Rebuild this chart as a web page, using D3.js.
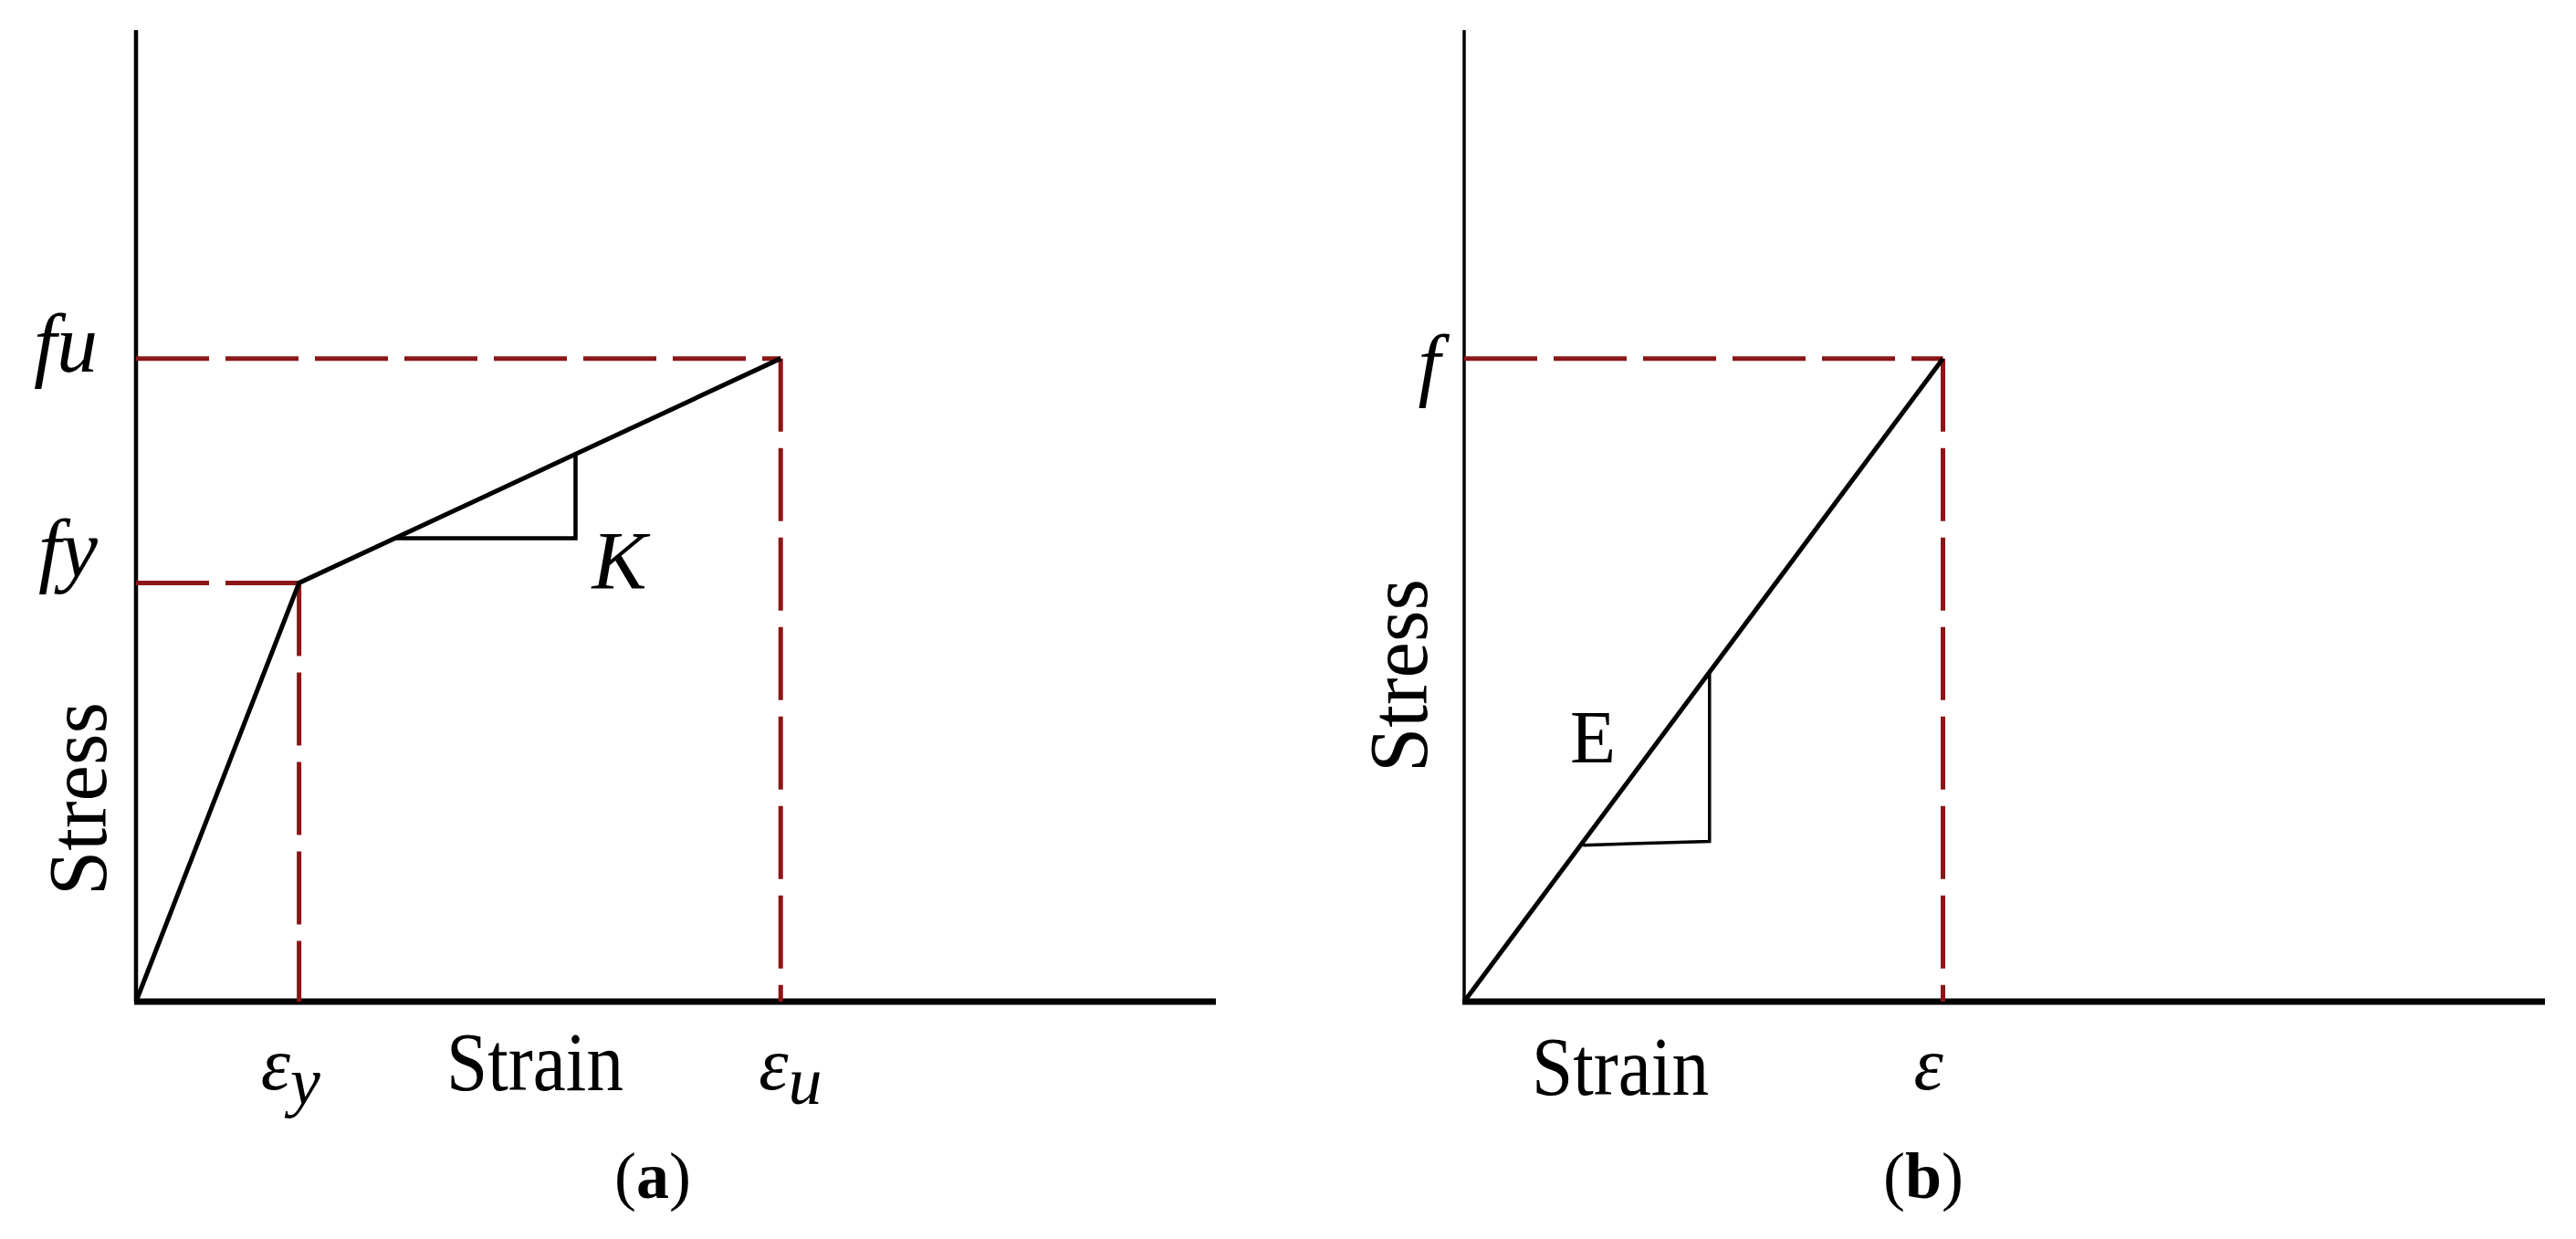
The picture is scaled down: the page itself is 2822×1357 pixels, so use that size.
<!DOCTYPE html>
<html>
<head>
<meta charset="utf-8">
<script src="https://cdn.jsdelivr.net/npm/d3@7"></script>
<style>
  body { margin: 0; background: #fff; }
  text { font-family: "Liberation Serif", "DejaVu Serif", serif; fill: #000; }
</style>
</head>
<body>
<div id="chart"></div>
<script>
// values (both axes run 0..100 in arbitrary units)
const strainA = [0, 15.1, 59.7];      // origin, eps_y, eps_u
const stressA = [0, 43.1, 66.2];      // origin, fy, fu
const kStrain = [24.0, 40.7, 40.7];   // slope triangle K
const kStress = [47.7, 47.7, 56.3];

const strainB = [0, 44.3];            // origin, eps
const stressB = [0, 66.2];            // origin, f
const eStrain = [11.0, 22.7, 22.7];   // slope triangle E
const eStress = [16.1, 16.5, 33.9];

const stressTicksA = ["fu", "fy"];
const stressTicksB = ["f"];
const captions = ["a", "b"];

const W = 2822, H = 1357;
const red = "#8b1616";

const svg = d3.select("#chart").append("svg")
    .attr("width", W)
    .attr("height", H);

// Set up scales for each panel
const xA = d3.scaleLinear().domain([0, 100]).range([149, 1332]);
const yA = d3.scaleLinear().domain([0, 100]).range([1097, 33]);
const xB = d3.scaleLinear().domain([0, 100]).range([1604, 2788]);
const yB = d3.scaleLinear().domain([0, 100]).range([1097, 33]);

function drawAxes(x, y, yWidth) {
    svg.append("line")
        .attr("x1", x(0)).attr("x2", x(0))
        .attr("y1", y(0)).attr("y2", y(100))
        .attr("stroke", "#000").attr("stroke-width", yWidth);
    svg.append("line")
        .attr("x1", x(0) - 2).attr("x2", x(100))
        .attr("y1", y(0)).attr("y2", y(0))
        .attr("stroke", "#000").attr("stroke-width", 7);
}

function guide(x, y, sx, sy) {
    const g = svg.append("g")
        .attr("stroke", red)
        .attr("stroke-width", 5)
        .attr("stroke-dasharray", "80 18")
        .attr("fill", "none");
    g.append("line")
        .attr("x1", x(0)).attr("x2", x(sx))
        .attr("y1", y(sy)).attr("y2", y(sy));
    g.append("line")
        .attr("x1", x(sx)).attr("x2", x(sx))
        .attr("y1", y(sy)).attr("y2", y(0));
}

// panel (a)
drawAxes(xA, yA, 4.5);
guide(xA, yA, strainA[1], stressA[1]);
guide(xA, yA, strainA[2], stressA[2]);

const lineA = d3.line().x((d, i) => xA(strainA[i])).y((d, i) => yA(stressA[i]));
svg.append("path")
    .datum(strainA)
    .attr("d", lineA)
    .attr("fill", "none")
    .attr("stroke", "#000")
    .attr("stroke-width", 5)
    .attr("stroke-linejoin", "miter");

const triK = d3.line().x((d, i) => xA(kStrain[i])).y((d, i) => yA(kStress[i]));
svg.append("path")
    .datum(kStrain)
    .attr("d", triK)
    .attr("fill", "none")
    .attr("stroke", "#000")
    .attr("stroke-width", 4.5);

// panel (b)
drawAxes(xB, yB, 3.5);
guide(xB, yB, strainB[1], stressB[1]);

const lineB = d3.line().x((d, i) => xB(strainB[i])).y((d, i) => yB(stressB[i]));
svg.append("path")
    .datum(strainB)
    .attr("d", lineB)
    .attr("fill", "none")
    .attr("stroke", "#000")
    .attr("stroke-width", 5);

const triE = d3.line().x((d, i) => xB(eStrain[i])).y((d, i) => yB(eStress[i]));
svg.append("path")
    .datum(eStrain)
    .attr("d", triE)
    .attr("fill", "none")
    .attr("stroke", "#000")
    .attr("stroke-width", 3.5);

// stress tick labels
svg.selectAll(".ta").data(stressTicksA).enter().append("text")
    .attr("x", xA(0) - 42)
    .attr("y", (d, i) => yA(stressA[2 - i]) + (i === 0 ? 14 : -6))
    .attr("text-anchor", "end")
    .attr("font-style", "italic")
    .attr("font-size", 90)
    .text(d => d);

svg.selectAll(".tb").data(stressTicksB).enter().append("text")
    .attr("x", xB(0) - 26)
    .attr("y", yB(stressB[1]) + 35)
    .attr("text-anchor", "end")
    .attr("font-style", "italic")
    .attr("font-size", 88)
    .text(d => d);

// strain tick labels with subscripts
function epsLabel(x, sub) {
    const t = svg.append("text")
        .attr("x", x)
        .attr("y", 1193)
        .attr("font-style", "italic")
        .attr("font-size", 82);
    t.append("tspan").text("\u03b5");
    if (sub) {
        t.append("tspan")
            .attr("dy", 16)
            .attr("font-size", 74)
            .text(sub);
    }
}
epsLabel(xA(strainA[1]) - 42, "y");
epsLabel(xA(strainA[2]) - 24, "u");
epsLabel(xB(strainB[1]) - 32, null);

// slope labels
svg.append("text")
    .attr("x", xA(kStrain[1]) + 18)
    .attr("y", 645)
    .attr("font-style", "italic")
    .attr("font-size", 90)
    .text("K");

svg.append("text")
    .attr("x", 1720)
    .attr("y", 835)
    .attr("font-size", 82)
    .text("E");

// axis titles
function strainTitle(cx, base) {
    svg.append("text")
        .attr("x", cx)
        .attr("y", base)
        .attr("text-anchor", "middle")
        .attr("font-size", 92)
        .attr("textLength", 194)
        .attr("lengthAdjust", "spacingAndGlyphs")
        .text("Strain");
}
strainTitle(586, 1194);
strainTitle(1775, 1199);

function stressTitle(bx, cy) {
    svg.append("text")
        .attr("transform", `translate(${bx},${cy}) rotate(-90)`)
        .attr("text-anchor", "middle")
        .attr("font-size", 92)
        .attr("textLength", 212)
        .attr("lengthAdjust", "spacingAndGlyphs")
        .text("Stress");
}
stressTitle(116, 875);
stressTitle(1563, 740);

// captions
[715, 2107].forEach((cx, i) => {
    const t = svg.append("text")
        .attr("x", cx)
        .attr("y", 1312)
        .attr("text-anchor", "middle")
        .attr("font-size", 72);
    t.append("tspan").text("(");
    t.append("tspan").attr("font-weight", "bold").text(captions[i]);
    t.append("tspan").text(")");
});
</script>
</body>
</html>
